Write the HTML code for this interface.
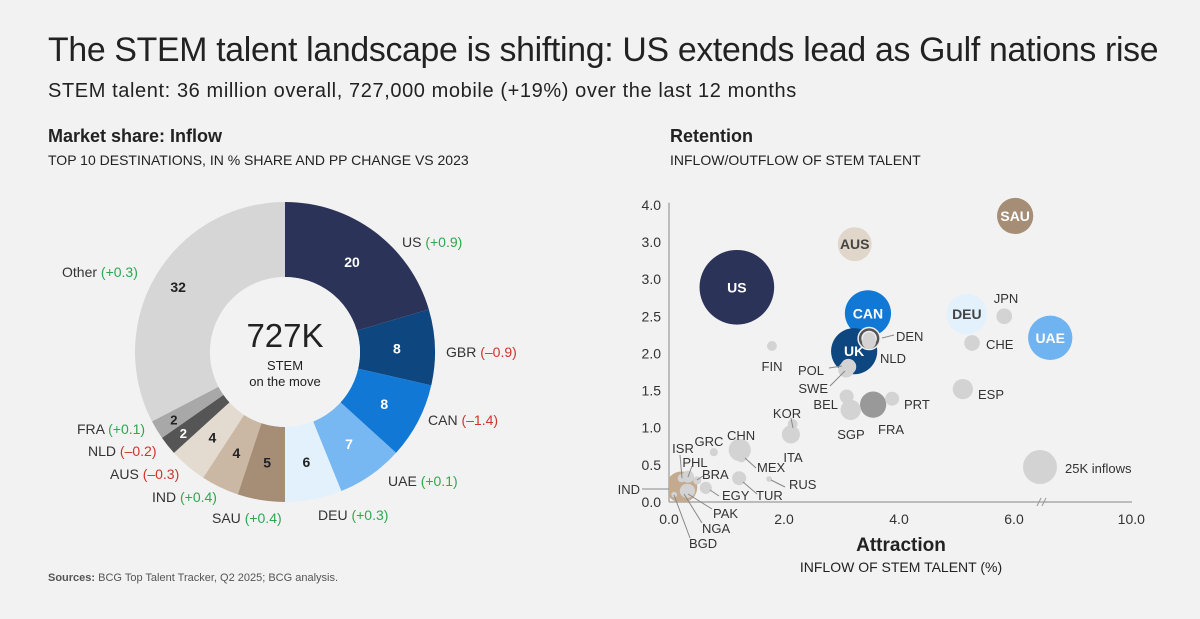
<!DOCTYPE html>
<html><head><meta charset="utf-8">
<style>
body{margin:0;width:1200px;height:619px;background:#f2f2f2;font-family:"Liberation Sans",sans-serif;color:#222;overflow:hidden;position:relative}
.t{position:absolute;white-space:nowrap}
</style></head>
<body>
<div class="t" style="left:48px;top:31px;font-size:33.8px;letter-spacing:-0.3px;color:#222">The STEM talent landscape is shifting: US extends lead as Gulf nations rise</div>
<div class="t" style="left:48px;top:80px;font-size:20px;letter-spacing:0.6px;color:#222">STEM talent: 36 million overall, 727,000 mobile (+19%) over the last 12 months</div>
<div class="t" style="left:48px;top:126px;font-size:18px;font-weight:bold">Market share: Inflow</div>
<div class="t" style="left:48px;top:152px;font-size:14px">TOP 10 DESTINATIONS, IN % SHARE AND PP CHANGE VS 2023</div>
<div class="t" style="left:670px;top:126px;font-size:18px;font-weight:bold">Retention</div>
<div class="t" style="left:670px;top:152px;font-size:14px">INFLOW/OUTFLOW OF STEM TALENT</div>
<div class="t" style="left:48px;top:572px;font-size:11px;color:#555"><b>Sources:</b> BCG Top Talent Tracker, Q2 2025; BCG analysis.</div>
<svg id="svg" width="1200" height="619" style="position:absolute;left:0;top:0"></svg>
<script>
const donutLabels=["US","GBR","CAN","UAE","DEU","SAU","IND","AUS","NLD","FRA","Other"];
const donutValues=[20,8,8,7,6,5,4,4,2,2,32];
const donutChanges=["+0.9","–0.9","–1.4","+0.1","+0.3","+0.4","+0.4","–0.3","–0.2","+0.1","+0.3"];
const donutColors=["#2b3358","#0e4680","#1278d6","#77b7f2","#e2f1fc","#a58d76","#cbb8a4","#e3dbd0","#555555","#a8a8a8","#d6d6d6"];
const countries=["US","AUS","SAU","CAN","DEU","JPN","UAE","CHE","UK","DEN","NLD","FIN","POL","SWE","ESP","BEL","SGP","FRA","PRT","KOR","ITA","CHN","GRC","MEX","RUS","TUR","EGY","IND","ISR","PHL","BRA","PAK","NGA","BGD"];
const attraction=[1.18,3.23,6.02,3.46,5.18,5.83,6.63,5.27,3.22,3.48,3.48,1.79,3.12,3.08,5.11,3.09,3.16,3.55,3.88,2.15,2.12,1.23,0.78,1.26,1.74,1.22,0.64,0.22,0.22,0.33,0.49,0.31,0.33,0.09];
const retention=[2.89,3.47,3.85,2.54,2.53,2.5,2.21,2.14,2.03,2.2,2.2,2.1,1.82,1.78,1.52,1.42,1.24,1.31,1.39,1.05,0.91,0.7,0.67,0.6,0.31,0.32,0.19,0.2,0.32,0.34,0.29,0.15,0.15,0.1];
const inflowK=[34,7,8,13,10,1.5,12,1.5,13,3,1.2,0.6,1.5,1.5,2.5,1.2,2.5,4.2,1.2,0.6,2,3,0.4,0.6,0.2,1.2,0.9,6,0.4,0.9,0.4,1.2,1.2,0.2];
const bubbleColors={US:"#2b3358",AUS:"#e0d6ca",SAU:"#a58d76",CAN:"#1278d6",DEU:"#e2f1fc",UAE:"#6fb3f0",UK:"#0e4680",DEN:"#555",FRA:"#999",IND:"#c4ab90"};
const yTicks=["0.0","0.5","1.0","1.5","2.0","2.5","3.0","3.0","4.0"];
const xTicks=["0.0","2.0","4.0","6.0","10.0"];
const xTickVals=[0,2,4,6,8.04];
const NS="http://www.w3.org/2000/svg";
const svg=document.getElementById('svg');
function el(tag,attrs,parent){const e=document.createElementNS(NS,tag);for(const k in attrs)e.setAttribute(k,attrs[k]);(parent||svg).appendChild(e);return e;}
// donut
const cx=285,cy=352,R=150,r0=75;
const total=donutValues.reduce((a,b)=>a+b,0);
let acc=0;
const labelPos=[[402,242],[446,352],[428,420],[388,481],[318,515],[212,518],[152,497],[110,474],[88,451],[77,429],[62,272]];
donutValues.forEach((v,i)=>{
 const a0=acc/total*2*Math.PI;acc+=v;const a1=acc/total*2*Math.PI;
 const p=(a,rr)=>[cx+rr*Math.sin(a),cy-rr*Math.cos(a)];
 const [x0,y0]=p(a0,R),[x1,y1]=p(a1,R),[x2,y2]=p(a1,r0),[x3,y3]=p(a0,r0);
 const lg=(a1-a0)>Math.PI?1:0;
 const s=el('path',{d:`M${x0},${y0}A${R},${R} 0 ${lg} 1 ${x1},${y1}L${x2},${y2}A${r0},${r0} 0 ${lg} 0 ${x3},${y3}Z`,fill:donutColors[i]});
 
 
 const am=(a0+a1)/2;const rl=v<3?130:(i==10?125:112);const [tx,ty]=p(am,rl);
 const dark=i<=3||i==8;
 const t=el('text',{x:tx,y:ty+5,'text-anchor':'middle','font-size':v<3?13:14,'font-weight':'bold',fill:dark?'#fff':'#222'});t.textContent=v;
 
 
 const lp=labelPos[i];
 const lt=el('text',{x:lp[0],y:lp[1]+5,'text-anchor':'start','font-size':14,fill:'#333'});
 
 
 lt.innerHTML=donutLabels[i]+' <tspan fill="'+(donutChanges[i][0]=='+'?'#2ea84f':'#d0342c')+'">('+donutChanges[i]+')</tspan>';
});
el('circle',{cx,cy,r:r0,fill:'#f2f2f2'});
let ct=el('text',{x:cx,y:cy-5,'text-anchor':'middle','font-size':33,fill:'#222'});ct.textContent='727K';
ct=el('text',{x:cx,y:cy+18,'text-anchor':'middle','font-size':13,fill:'#222'});ct.textContent='STEM';
ct=el('text',{x:cx,y:cy+34,'text-anchor':'middle','font-size':13,fill:'#222'});ct.textContent='on the move';
// scatter
const X0=669,Y0=502,sx=57.5,sy=74.3;
const X=v=>X0+v*sx, Y=v=>Y0-v*sy;
el('line',{x1:X0,y1:Y(4)-2,x2:X0,y2:Y0,stroke:'#aaa','stroke-width':1.5});
el('line',{x1:X0,y1:Y0,x2:1132,y2:Y0,stroke:'#aaa','stroke-width':1.5});
el('path',{d:`M1037,506L1041,498M1042,506L1046,498`,stroke:'#999',fill:'none'});
yTicks.forEach((t,i)=>{const e=el('text',{x:X0-8,y:Y(i*0.5)+5,'text-anchor':'end','font-size':14,fill:'#333'});e.textContent=t;
 });
xTicks.forEach((t,i)=>{const e=el('text',{x:X(xTickVals[i]),y:Y0+22,'text-anchor':'middle','font-size':14,fill:'#333'});e.textContent=t;
 });
let at=el('text',{x:901,y:551,'text-anchor':'middle','font-size':19,'font-weight':'bold',fill:'#222'});at.textContent='Attraction';


at=el('text',{x:901,y:572,'text-anchor':'middle','font-size':14,fill:'#222'});at.textContent='INFLOW OF STEM TALENT (%)';
const cp=el('clipPath',{id:'cp'});
el('rect',{x:X0,y:150,width:600,height:Y0-150},cp);
const inside={US:1,AUS:1,SAU:1,CAN:1,DEU:1,UAE:1,UK:1};
const order=countries.map((c,i)=>i).sort((a,b)=>inflowK[b]-inflowK[a]);
order.forEach(i=>{
 const c=countries[i];const rr=6.4*Math.sqrt(inflowK[i]);
 const col=bubbleColors[c]||'#d3d3d3';
 const b=el('circle',{cx:X(attraction[i]),cy:Y(retention[i]),r:c=='DEN'?11:rr,fill:col,stroke:(c=='DEN'||c=='NLD')?'#eee':'none','stroke-width':1.5,'clip-path':'url(#cp)'});
 
 
 if(inside[c]){const t=el('text',{x:X(attraction[i]),y:Y(retention[i])+5,'text-anchor':'middle','font-size':14,'font-weight':'bold',fill:(c=='AUS'||c=='DEU')?'#444':'#fff'});t.textContent=c;}
});
const ext=[["FIN",772,366,"middle"],["DEN",896,336,"start"],["NLD",880,358,"start"],["POL",824,370,"end"],["SWE",828,388,"end"],["ESP",978,394,"start"],["BEL",838,404,"end"],["SGP",851,434,"middle"],["FRA",878,429,"start"],["PRT",904,404,"start"],["KOR",787,413,"middle"],["ITA",793,457,"middle"],["CHN",727,435,"start"],["GRC",709,441,"middle"],["MEX",757,467,"start"],["RUS",789,484,"start"],["TUR",756,495,"start"],["EGY",722,495,"start"],["ISR",683,448,"middle"],["PHL",695,462,"middle"],["BRA",702,474,"start"],["PAK",713,513,"start"],["NGA",702,528,"start"],["BGD",689,543,"start"],["IND",640,489,"end"],["JPN",1006,298,"middle"],["CHE",986,344,"start"],["25K inflows",1065,468,"start"]];
ext.forEach(d=>{const t=el('text',{x:d[1],y:d[2]+5,'text-anchor':d[3],'font-size':13,fill:'#333'});t.textContent=d[0];
 });
el('circle',{cx:1040,cy:467,r:17,fill:'#d3d3d3'});
el('path',{d:'M882,338L894,335M842,366L829,368M845,371L830,386M793,428L791,418M745,458L756,468M771,480L785,487M743,482L757,494M710,490L719,496M682,478L680,455M688,477L692,466M697,480L703,476M688,494L712,509M684,494L702,523M674,495L690,538M642,489L669,489',stroke:'#888',fill:'none','stroke-width':1});
el('circle',{cx:869,cy:342,r:7,fill:'#d3d3d3'});
</script>
</body></html>
